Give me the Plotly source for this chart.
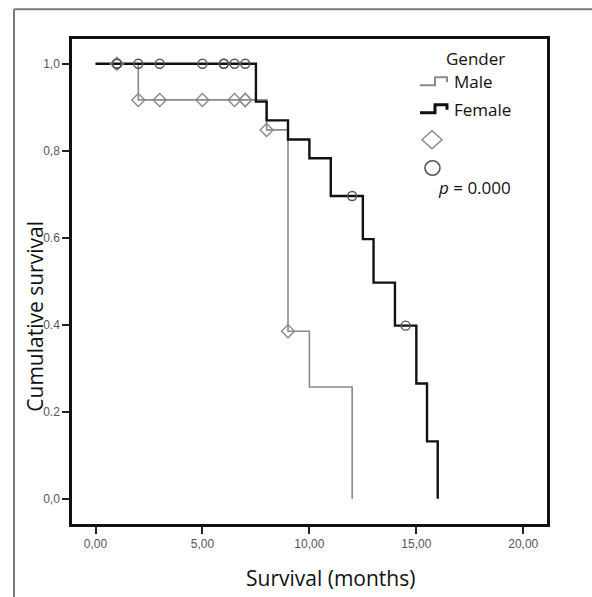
import plotly.graph_objects as go

# ---- data ----
male_t = [0, 2, 8, 9, 10, 12]
male_s = [1.0, 0.917, 0.848, 0.385, 0.257, 0.0]
female_t = [0, 7.5, 8, 9, 10, 11, 12.5, 13, 14, 15, 15.5, 16]
female_s = [1.0, 0.913, 0.870, 0.826, 0.783, 0.696, 0.597, 0.497, 0.398, 0.265, 0.132, 0.0]
male_cens_t = [1, 2, 3, 5, 6.5, 7, 7, 8, 9]
male_cens_s = [1.0, 0.917, 0.917, 0.917, 0.917, 0.917, 0.917, 0.848, 0.385]
female_cens_t = [1, 1, 2, 3, 5, 6, 6, 6.5, 7, 12, 14.5]
female_cens_s = [1.0, 1.0, 1.0, 1.0, 1.0, 1.0, 1.0, 1.0, 1.0, 0.696, 0.398]
x_ticks = [0, 5, 10, 15, 20]
x_tick_text = ["0,00", "5,00", "10,00", "15,00", "20,00"]
y_ticks = [0.0, 0.2, 0.4, 0.6, 0.8, 1.0]
y_tick_text = ["0,0", "0.2", "0.4", "0.6", "0,8", "1,0"]

W, H = 592, 597
L, R, T, B = 72, 547, 39.3, 524.3
GREY = "#8a8a8a"
FONT = "Open Sans"


def px(x):
    return (x - L) / (R - L)


def py(y):
    return (B - y) / (B - T)


fig = go.Figure()
fig.add_trace(go.Scatter(x=male_t, y=male_s, mode="lines", line=dict(shape="hv", color=GREY, width=1.6),
                         name="Male", showlegend=False, hoverinfo="skip"))
fig.add_trace(go.Scatter(x=female_t, y=female_s, mode="lines", line=dict(shape="hv", color="#111111", width=2.4),
                         name="Female", showlegend=False, hoverinfo="skip"))
fig.add_trace(go.Scatter(x=male_cens_t, y=male_cens_s, mode="markers",
                         marker=dict(symbol="diamond-open", size=10, color=GREY, line=dict(width=1.4)),
                         showlegend=False, hoverinfo="skip"))
fig.add_trace(go.Scatter(x=female_cens_t, y=female_cens_s, mode="markers",
                         marker=dict(symbol="circle-open", size=9, color="#555555", line=dict(width=1.4)),
                         showlegend=False, hoverinfo="skip"))

shapes = []
# outer frame (left & top)
shapes.append(dict(type="line", xref="paper", yref="paper", x0=px(14), x1=px(14), y0=py(600), y1=py(9.5),
                   line=dict(color="#7a7a7a", width=2)))
shapes.append(dict(type="line", xref="paper", yref="paper", x0=px(14), x1=px(600), y0=py(9.5), y1=py(9.5),
                   line=dict(color="#7a7a7a", width=2)))


def step_icon(x0, yc, color, width):
    pts = [(x0, yc + 3.5), (x0 + 15, yc + 3.5), (x0 + 15, yc - 4.5), (x0 + 27, yc - 4.5), (x0 + 27, yc + 0.5)]
    path = "M " + " L ".join(f"{px(a):.5f},{py(b):.5f}" for a, b in pts)
    return dict(type="path", xref="paper", yref="paper", path=path, line=dict(color=color, width=width))


shapes.append(step_icon(420, 82, GREY, 2))
shapes.append(step_icon(420, 109.5, "#111111", 3))
# legend diamond
cx, cy, hw, hh = 432, 140, 10, 9
dpath = (f"M {px(cx - hw):.5f},{py(cy):.5f} L {px(cx):.5f},{py(cy - hh):.5f} "
         f"L {px(cx + hw):.5f},{py(cy):.5f} L {px(cx):.5f},{py(cy + hh):.5f} Z")
shapes.append(dict(type="path", xref="paper", yref="paper", path=dpath, line=dict(color=GREY, width=1.5)))
# legend circle
shapes.append(dict(type="circle", xref="paper", yref="paper", x0=px(425), x1=px(440), y0=py(175.5), y1=py(161),
                   line=dict(color="#555555", width=1.6)))

annotations = [
    dict(text="Gender", x=px(475), y=py(59), xref="paper", yref="paper", showarrow=False,
         xanchor="center", yanchor="middle", font=dict(family=FONT, size=17, color="#111")),
    dict(text="Male", x=px(452), y=py(82), xref="paper", yref="paper", showarrow=False,
         xanchor="left", yanchor="middle", font=dict(family=FONT, size=17, color="#111")),
    dict(text="Female", x=px(452), y=py(109.5), xref="paper", yref="paper", showarrow=False,
         xanchor="left", yanchor="middle", font=dict(family=FONT, size=17, color="#111")),
    dict(text="<i>p</i> = 0.000", x=px(436), y=py(188), xref="paper", yref="paper", showarrow=False,
         xanchor="left", yanchor="middle", font=dict(family=FONT, size=17, color="#111")),
    dict(text="Survival (months)", x=px(330), y=py(578), xref="paper", yref="paper", showarrow=False,
         xanchor="center", yanchor="middle", font=dict(family=FONT, size=21, color="#111")),
    dict(text="Cumulative survival", x=px(35), y=py(317), xref="paper", yref="paper", showarrow=False,
         textangle=-90, xanchor="center", yanchor="middle", font=dict(family=FONT, size=21, color="#111")),
]

fig.update_layout(
    width=W, height=H, margin=dict(l=L, r=W - R, t=T, b=H - B),
    paper_bgcolor="white", plot_bgcolor="white",
    shapes=shapes, annotations=annotations, showlegend=False,
    xaxis=dict(range=[-1.10, 21.11], tickvals=x_ticks, ticktext=x_tick_text, showgrid=False, zeroline=False,
               showline=True, linecolor="#111", linewidth=2.5, mirror=True, ticks="outside", ticklen=7,
               tickwidth=1.6, tickcolor="#222", tickfont=dict(family="Liberation Sans", size=12, color="#555")),
    yaxis=dict(range=[-0.058, 1.057], tickvals=y_ticks, ticktext=y_tick_text, showgrid=False, zeroline=False,
               showline=True, linecolor="#111", linewidth=2.5, mirror=True, ticks="outside", ticklen=7,
               tickwidth=1.8, tickcolor="#222", tickfont=dict(family="Liberation Sans", size=12, color="#555")),
)

fig.write_html("out.html")
